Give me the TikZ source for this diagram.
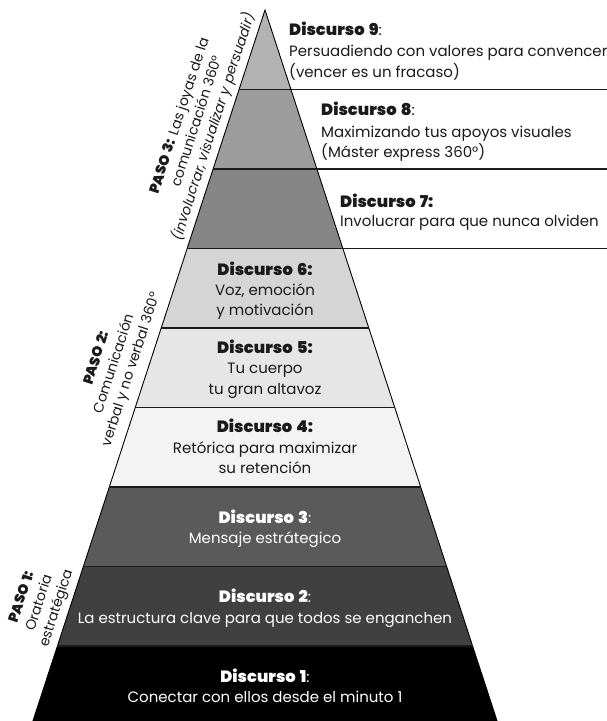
\documentclass[tikz,border=0pt]{standalone}
\usepackage{fontspec}
\setmainfont{Poppins}
\newfontfamily\heavy{Poppins Black}[WordSpace=1.5]
\definecolor{b9}{HTML}{B2B2B2}
\definecolor{b8}{HTML}{9C9C9C}
\definecolor{b7}{HTML}{868686}
\definecolor{b6}{HTML}{D5D5D5}
\definecolor{b5}{HTML}{E6E6E6}
\definecolor{b4}{HTML}{F3F3F3}
\definecolor{b3}{HTML}{5A5A5A}
\definecolor{b2}{HTML}{404040}
\definecolor{b1}{HTML}{000000}
\definecolor{txt}{HTML}{1A1A1A}
\newcommand\hd[1]{{\heavy\fontsize{16.3}{21}\selectfont #1}}
\newcommand\hs[1]{{\heavy #1}}
\tikzset{
  body/.style={font=\fontsize{15}{21}\selectfont, inner sep=0pt, text=txt},
  wbody/.style={body, text=white},
  side/.style={font=\fontsize{14}{18}\selectfont, align=center, rotate=72, inner sep=0pt, text=txt},
  sepline/.style={draw=txt, line width=1.4pt},
}
\begin{document}
\begin{tikzpicture}[x=1pt,y=-1pt]
\useasboundingbox (0,0) rectangle (607,721);
\clip (0,0) rectangle (607,721);
\coordinate (apex) at (265,10);
\coordinate (bl) at ({265-0.3264*720},730);
\coordinate (br) at ({265+0.3264*720},730);
% bands
\foreach \k/\c in {0/b9,1/b8,2/b7,3/b6,4/b5,5/b4,6/b3,7/b2,8/b1} {
  \pgfmathsetmacro\ya{10+79.5*\k}
  \pgfmathsetmacro\yb{10+79.5*(\k+1)+(\k==8 ? 10 : 0)}
  \pgfmathsetmacro\wa{0.3264*(\ya-10)}
  \pgfmathsetmacro\wb{0.3264*(\yb-10)}
  \fill[\c] ({265-\wa},\ya) -- ({265+\wa},\ya) -- ({265+\wb},\yb) -- ({265-\wb},\yb) -- cycle;
}
% outline
\draw[line width=0.9pt, black] (bl) -- (apex) -- (br);
% separators
\foreach \k in {1,...,8} {
  \pgfmathsetmacro\y{10+79.5*\k}
  \pgfmathsetmacro\w{0.3264*(\y-10)}
  \pgfmathsetmacro\xr{\k<4 ? 607 : 265+\w}
  \draw[sepline] ({265-\w},\y) -- (\xr,\y);
}
% texts band 9-7
\node[body, anchor=base west] (d9a) at (289,35) {\hd{Discurso 9}:};
\node[body, anchor=base west] (d9b) at (289,56) {Persuadiendo con valores para convencer};
\node[body, anchor=base west] (d9c) at (289,77) {(vencer es un fracaso)};
\node[body, anchor=base west] (d8a) at (321,115) {\hd{Discurso 8}:};
\node[body, anchor=base west] (d8b) at (321,137) {Maximizando tus apoyos visuales};
\node[body, anchor=base west] (d8c) at (321,157) {(Máster express 360°)};
\node[body, anchor=base west] (d7a) at (340,207) {\hd{Discurso 7:}};
\node[body, anchor=base west] (d7b) at (340,226) {Involucrar para que nunca olviden};
% band 6-4
\node[body, anchor=base] (d6a) at (265,275) {\hd{Discurso 6:}};
\node[body, anchor=base] (d6b) at (265,295) {Voz, emoción};
\node[body, anchor=base] (d6c) at (265,315) {y motivación};
\node[body, anchor=base] (d5a) at (265,353) {\hd{Discurso 5:}};
\node[body, anchor=base] (d5b) at (265,373) {Tu cuerpo};
\node[body, anchor=base] (d5c) at (265,394) {tu gran altavoz};
\node[body, anchor=base] (d4a) at (265,432) {\hd{Discurso 4:}};
\node[body, anchor=base] (d4b) at (265,453) {Retórica para maximizar};
\node[body, anchor=base] (d4c) at (265,473) {su retención};
% band 3-1
\node[wbody, anchor=base] (d3a) at (265,523) {\hd{Discurso 3}:};
\node[wbody, anchor=base] (d3b) at (265,543) {Mensaje estrátegico};
\node[wbody, anchor=base] (d2a) at (265,602) {\hd{Discurso 2}:};
\node[wbody, anchor=base] (d2b) at (265,623) {La estructura clave para que todos se enganchen};
\node[wbody, anchor=base] (d1a) at (265,682) {\hd{Discurso 1}:};
\node[wbody, anchor=base] (d1b) at (265,702) {Conectar con ellos desde el minuto 1};
% side labels
\node[side] (p3) at (197.5,121.5) {\hs{PASO 3:} Las joyas de la\\comunicación 360°\\\itshape(involucrar, visualizar y persuadir)};
\node[side] (p2) at (114.5,364) {\hs{PASO 2:}\\Comunicación\\verbal y no verbal 360°};
\node[side] (p1) at (40,603) {\hs{PASO 1:}\\Oratoria\\estratégica};
\end{tikzpicture}
\end{document}
